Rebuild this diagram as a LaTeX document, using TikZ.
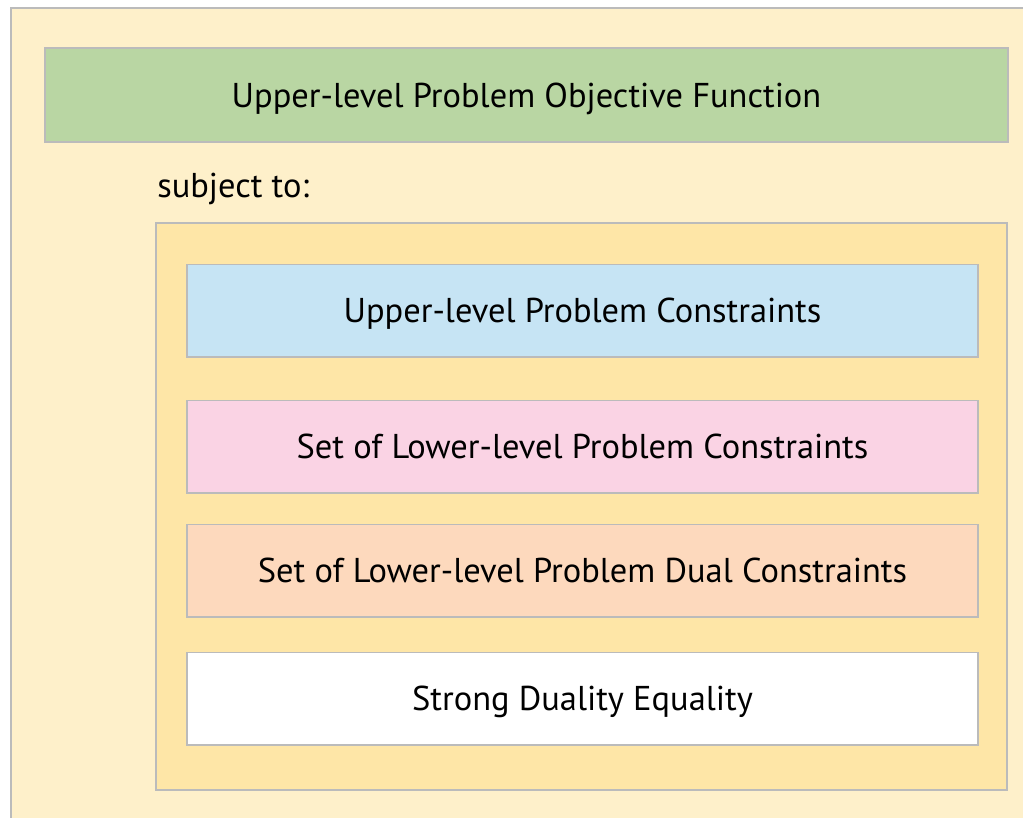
\documentclass[tikz,border=0pt]{standalone}
\usepackage{fontspec}
\setmainfont{PT Sans}
\usepackage{xcolor}
\usepackage{tikz}
\usetikzlibrary{positioning}

\definecolor{outerfill}{HTML}{FEF0CA}
\definecolor{innerfill}{HTML}{FEE6A7}
\definecolor{framegray}{HTML}{BBBBBB}
\definecolor{objgreen}{HTML}{B9D6A3}
\definecolor{conblue}{HTML}{C6E4F4}
\definecolor{conpink}{HTML}{FAD3E4}
\definecolor{conorange}{HTML}{FDD9BD}

\tikzstyle{panel} = [draw=framegray, line width=1.4pt]
\tikzstyle{termbox} = [panel, minimum height=2.3cm, inner sep=0pt, text depth=0pt, font=\fontsize{24.5}{29}\selectfont]

\begin{document}
\begin{tikzpicture}[x=0.025cm, y=-0.025cm]
    \useasboundingbox (0,0) rectangle (1023,817);
    \clip (0,0) rectangle (1023,817);

    % outer and inner frames
    \filldraw[panel, fill=outerfill] (11,8) rectangle (1040,840);
    \filldraw[panel, fill=innerfill] (156,223) rectangle (1007,790);

    % objective
    \node[termbox, fill=objgreen, minimum width=24.05cm, minimum height=2.35cm] (obj) at (526.5,95) {Upper-level Problem Objective Function};

    \node[anchor=west, inner sep=0pt, font=\fontsize{24.5}{29}\selectfont] (st) at (157,189) {subject to:};

    % constraint blocks
    \node[termbox, fill=conblue, minimum width=19.75cm] (upper) at (582.5,310.5) {Upper-level Problem Constraints};
    \node[termbox, fill=conpink, minimum width=19.75cm] (lower) at (582.5,446.5) {Set of Lower-level Problem Constraints};
    \node[termbox, fill=conorange, minimum width=19.75cm] (dual) at (582.5,570.5) {Set of Lower-level Problem Dual Constraints};
    \node[termbox, fill=white, minimum width=19.75cm] (sde) at (582.5,698.5) {Strong Duality Equality};
\end{tikzpicture}
\end{document}
